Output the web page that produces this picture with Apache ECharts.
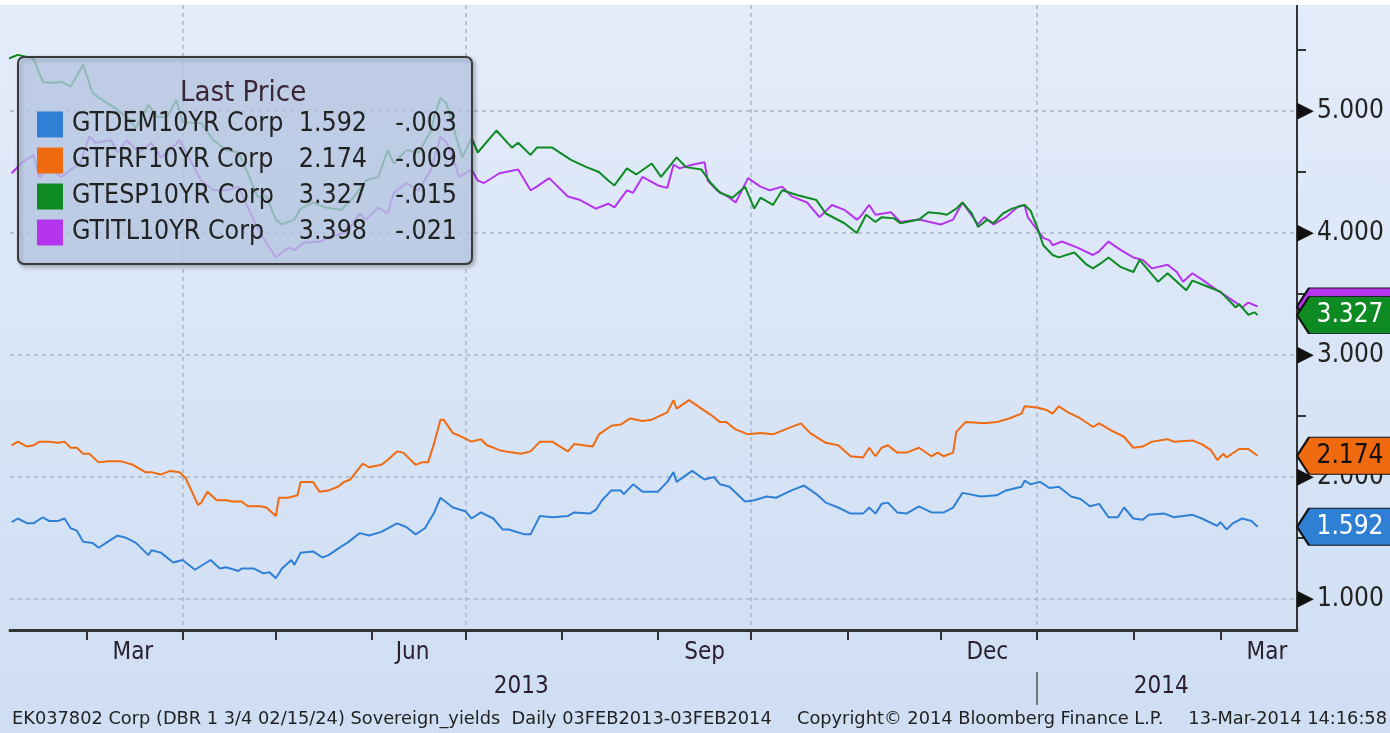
<!DOCTYPE html>
<html lang="en">
<head>
<meta charset="UTF-8">
<title>Sovereign yields</title>
<style>
  html, body { margin: 0; padding: 0; background: #fff; }
  #main { position: absolute; left: 0; top: 5px; width: 1390px; height: 728px; }
</style>
</head>
<body>
<div id="main"></div>
<script src="https://cdn.jsdelivr.net/npm/echarts@6/dist/echarts.min.js"></script>
<script>
// legend rows
var names = ['GTDEM10YR Corp', 'GTFRF10YR Corp', 'GTESP10YR Corp', 'GTITL10YR Corp'];
var lastPrice = ['1.592', '2.174', '3.327', '3.398'];
var change = ['-.003', '-.009', '-.015', '-.021'];
var colors = ['#2f80d5', '#f06a10', '#0d8a22', '#b534ee'];

// axis ticks / labels
var monthTicks = ['2013-03-01', '2013-04-01', '2013-05-01', '2013-06-01', '2013-07-01', '2013-08-01', '2013-09-01',
  '2013-10-01', '2013-11-01', '2013-12-01', '2014-01-01', '2014-02-01', '2014-03-01'];
var quarterLines = ['2013-04-01', '2013-07-01', '2013-10-01', '2014-01-01'];
var monthLabels = ['2013-03-16', '2013-06-14', '2013-09-16', '2013-12-16', '2014-03-16'];
var yearLabels = ['2013-07-19', '2014-02-10'];
var yearBreak = ['2014-01-01'];
var yTicks = [1, 2, 3, 4, 5];
var yMinor = [1.5, 2.5, 3.5, 4.5, 5.5];

// 10y yields
var dem = [['2013-02-05',1.63],['2013-02-07',1.66],['2013-02-10',1.62],['2013-02-12',1.62],['2013-02-15',1.67],['2013-02-17',1.64],
  ['2013-02-20',1.64],['2013-02-22',1.66],['2013-02-24',1.58],['2013-02-26',1.56],['2013-02-28',1.47],['2013-03-03',1.46],
  ['2013-03-05',1.42],['2013-03-08',1.47],['2013-03-11',1.52],['2013-03-14',1.50],['2013-03-17',1.46],['2013-03-21',1.36],
  ['2013-03-22',1.40],['2013-03-25',1.38],['2013-03-29',1.30],['2013-04-01',1.32],['2013-04-05',1.24],['2013-04-10',1.32],
  ['2013-04-13',1.25],['2013-04-15',1.26],['2013-04-19',1.23],['2013-04-20',1.25],['2013-04-24',1.25],['2013-04-27',1.21],
  ['2013-04-29',1.22],['2013-05-01',1.17],['2013-05-03',1.25],['2013-05-06',1.32],['2013-05-07',1.28],['2013-05-09',1.38],
  ['2013-05-13',1.39],['2013-05-16',1.34],['2013-05-18',1.36],['2013-05-22',1.43],['2013-05-24',1.46],['2013-05-28',1.54],
  ['2013-05-31',1.52],['2013-06-04',1.55],['2013-06-09',1.62],['2013-06-12',1.59],['2013-06-15',1.53],['2013-06-18',1.58],
  ['2013-06-21',1.71],['2013-06-23',1.83],['2013-06-27',1.75],['2013-07-01',1.72],['2013-07-03',1.66],['2013-07-06',1.71],
  ['2013-07-10',1.66],['2013-07-13',1.57],['2013-07-15',1.57],['2013-07-20',1.53],['2013-07-22',1.53],['2013-07-25',1.68],
  ['2013-07-29',1.67],['2013-08-03',1.68],['2013-08-05',1.71],['2013-08-10',1.70],['2013-08-12',1.73],['2013-08-14',1.81],
  ['2013-08-17',1.89],['2013-08-20',1.89],['2013-08-21',1.86],['2013-08-24',1.94],['2013-08-27',1.88],['2013-09-01',1.88],
  ['2013-09-04',1.96],['2013-09-06',2.04],['2013-09-07',1.96],['2013-09-12',2.05],['2013-09-16',1.98],['2013-09-19',2.00],
  ['2013-09-21',1.94],['2013-09-24',1.92],['2013-09-29',1.80],['2013-10-02',1.81],['2013-10-06',1.84],['2013-10-09',1.83],
  ['2013-10-14',1.89],['2013-10-18',1.93],['2013-10-22',1.86],['2013-10-25',1.79],['2013-10-29',1.75],['2013-11-02',1.70],
  ['2013-11-06',1.70],['2013-11-08',1.75],['2013-11-10',1.70],['2013-11-12',1.78],['2013-11-14',1.79],['2013-11-17',1.71],
  ['2013-11-20',1.70],['2013-11-24',1.76],['2013-11-28',1.71],['2013-12-02',1.71],['2013-12-05',1.75],['2013-12-08',1.87],
  ['2013-12-14',1.84],['2013-12-19',1.85],['2013-12-22',1.89],['2013-12-27',1.92],['2013-12-28',1.97],['2013-12-30',1.94],
  ['2014-01-02',1.96],['2014-01-05',1.91],['2014-01-08',1.92],['2014-01-12',1.84],['2014-01-15',1.82],['2014-01-18',1.76],
  ['2014-01-21',1.78],['2014-01-24',1.67],['2014-01-27',1.67],['2014-01-29',1.75],['2014-02-01',1.66],['2014-02-04',1.65],
  ['2014-02-06',1.69],['2014-02-11',1.70],['2014-02-14',1.67],['2014-02-20',1.69],['2014-02-23',1.66],['2014-02-28',1.60],
  ['2014-03-01',1.63],['2014-03-03',1.57],['2014-03-05',1.62],['2014-03-08',1.66],['2014-03-11',1.64],['2014-03-13',1.592]];

var frf = [['2013-02-05',2.26],['2013-02-07',2.29],['2013-02-10',2.25],['2013-02-12',2.26],['2013-02-14',2.29],['2013-02-17',2.29],
  ['2013-02-20',2.28],['2013-02-22',2.29],['2013-02-24',2.24],['2013-02-26',2.24],['2013-02-28',2.19],['2013-03-02',2.19],
  ['2013-03-05',2.12],['2013-03-08',2.13],['2013-03-12',2.13],['2013-03-16',2.10],['2013-03-20',2.04],['2013-03-22',2.04],
  ['2013-03-25',2.02],['2013-03-28',2.05],['2013-03-31',2.04],['2013-04-02',1.99],['2013-04-06',1.77],['2013-04-07',1.79],
  ['2013-04-09',1.88],['2013-04-12',1.81],['2013-04-15',1.81],['2013-04-17',1.80],['2013-04-20',1.80],['2013-04-22',1.76],
  ['2013-04-26',1.76],['2013-04-28',1.75],['2013-05-01',1.68],['2013-05-02',1.83],['2013-05-05',1.83],['2013-05-08',1.85],
  ['2013-05-09',1.96],['2013-05-13',1.96],['2013-05-15',1.88],['2013-05-18',1.89],['2013-05-21',1.92],['2013-05-23',1.96],
  ['2013-05-25',1.98],['2013-05-29',2.11],['2013-05-31',2.08],['2013-06-04',2.10],['2013-06-06',2.14],['2013-06-09',2.21],
  ['2013-06-11',2.20],['2013-06-15',2.10],['2013-06-17',2.12],['2013-06-19',2.12],['2013-06-21',2.28],['2013-06-23',2.47],
  ['2013-06-24',2.47],['2013-06-27',2.36],['2013-06-29',2.34],['2013-07-03',2.29],['2013-07-06',2.31],['2013-07-08',2.26],
  ['2013-07-12',2.22],['2013-07-14',2.21],['2013-07-19',2.19],['2013-07-22',2.21],['2013-07-25',2.29],['2013-07-29',2.29],
  ['2013-08-03',2.21],['2013-08-05',2.27],['2013-08-11',2.25],['2013-08-13',2.35],['2013-08-17',2.42],['2013-08-20',2.43],
  ['2013-08-23',2.48],['2013-08-27',2.46],['2013-08-30',2.47],['2013-09-04',2.53],['2013-09-06',2.63],['2013-09-07',2.56],
  ['2013-09-11',2.63],['2013-09-15',2.56],['2013-09-18',2.51],['2013-09-21',2.45],['2013-09-23',2.45],['2013-09-26',2.39],
  ['2013-09-30',2.35],['2013-10-04',2.36],['2013-10-08',2.35],['2013-10-12',2.39],['2013-10-17',2.44],['2013-10-20',2.36],
  ['2013-10-25',2.28],['2013-10-29',2.26],['2013-11-02',2.17],['2013-11-06',2.16],['2013-11-08',2.24],['2013-11-10',2.17],
  ['2013-11-12',2.24],['2013-11-14',2.26],['2013-11-17',2.20],['2013-11-20',2.20],['2013-11-24',2.24],['2013-11-28',2.17],
  ['2013-11-30',2.20],['2013-12-02',2.17],['2013-12-05',2.20],['2013-12-06',2.37],['2013-12-09',2.45],['2013-12-15',2.44],
  ['2013-12-19',2.45],['2013-12-23',2.48],['2013-12-27',2.52],['2013-12-28',2.58],['2014-01-01',2.57],['2014-01-04',2.55],
  ['2014-01-06',2.52],['2014-01-08',2.58],['2014-01-11',2.53],['2014-01-15',2.48],['2014-01-19',2.41],['2014-01-21',2.44],
  ['2014-01-25',2.38],['2014-01-29',2.33],['2014-02-01',2.24],['2014-02-04',2.25],['2014-02-07',2.29],['2014-02-12',2.31],
  ['2014-02-14',2.29],['2014-02-20',2.30],['2014-02-23',2.27],['2014-02-26',2.22],['2014-02-28',2.14],['2014-03-02',2.19],
  ['2014-03-03',2.16],['2014-03-07',2.23],['2014-03-10',2.23],['2014-03-13',2.174]];

var esp = [['2013-02-04',5.43],['2013-02-07',5.46],['2013-02-12',5.43],['2013-02-15',5.24],['2013-02-18',5.23],['2013-02-21',5.24],
  ['2013-02-24',5.20],['2013-02-28',5.38],['2013-03-03',5.15],['2013-03-05',5.11],['2013-03-10',5.03],['2013-03-14',4.95],
  ['2013-03-17',4.86],['2013-03-21',5.05],['2013-03-24',4.95],['2013-03-27',4.95],['2013-03-30',5.09],['2013-04-01',4.91],
  ['2013-04-07',4.90],['2013-04-11',4.76],['2013-04-15',4.68],['2013-04-19',4.66],['2013-04-22',4.49],['2013-04-25',4.30],
  ['2013-04-28',4.30],['2013-05-01',4.11],['2013-05-03',4.07],['2013-05-07',4.11],['2013-05-09',4.20],['2013-05-13',4.25],
  ['2013-05-17',4.21],['2013-05-22',4.19],['2013-05-26',4.29],['2013-05-30',4.43],['2013-06-03',4.46],['2013-06-06',4.68],
  ['2013-06-08',4.57],['2013-06-12',4.68],['2013-06-16',4.66],['2013-06-20',4.84],['2013-06-21',4.95],['2013-06-23',5.11],
  ['2013-06-25',5.06],['2013-06-28',4.79],['2013-06-30',4.62],['2013-07-03',4.78],['2013-07-05',4.66],['2013-07-11',4.84],
  ['2013-07-16',4.70],['2013-07-18',4.74],['2013-07-22',4.64],['2013-07-24',4.70],['2013-07-29',4.70],['2013-08-04',4.60],
  ['2013-08-09',4.54],['2013-08-13',4.50],['2013-08-16',4.43],['2013-08-18',4.39],['2013-08-22',4.53],['2013-08-25',4.48],
  ['2013-08-30',4.57],['2013-09-02',4.46],['2013-09-07',4.62],['2013-09-10',4.54],['2013-09-15',4.52],['2013-09-18',4.41],
  ['2013-09-21',4.33],['2013-09-25',4.29],['2013-09-29',4.38],['2013-10-02',4.20],['2013-10-04',4.29],['2013-10-08',4.23],
  ['2013-10-11',4.35],['2013-10-16',4.31],['2013-10-22',4.27],['2013-10-25',4.16],['2013-10-31',4.08],['2013-11-04',4.00],
  ['2013-11-07',4.15],['2013-11-10',4.09],['2013-11-12',4.13],['2013-11-16',4.12],['2013-11-18',4.08],['2013-11-24',4.11],
  ['2013-11-27',4.17],['2013-12-01',4.16],['2013-12-03',4.15],['2013-12-06',4.20],['2013-12-08',4.25],['2013-12-11',4.16],
  ['2013-12-13',4.05],['2013-12-16',4.11],['2013-12-18',4.08],['2013-12-21',4.16],['2013-12-24',4.20],['2013-12-28',4.23],
  ['2013-12-30',4.18],['2014-01-01',4.05],['2014-01-03',3.90],['2014-01-06',3.82],['2014-01-08',3.80],['2014-01-13',3.84],
  ['2014-01-17',3.74],['2014-01-19',3.71],['2014-01-22',3.76],['2014-01-24',3.80],['2014-01-28',3.72],['2014-02-01',3.68],
  ['2014-02-03',3.78],['2014-02-09',3.60],['2014-02-12',3.67],['2014-02-18',3.53],['2014-02-20',3.61],['2014-02-25',3.56],
  ['2014-03-01',3.52],['2014-03-06',3.39],['2014-03-07',3.42],['2014-03-10',3.33],['2014-03-12',3.35],['2014-03-13',3.327]];

var itl = [['2013-02-05',4.49],['2013-02-08',4.57],['2013-02-12',4.64],['2013-02-14',4.46],['2013-02-17',4.52],['2013-02-21',4.46],
  ['2013-02-24',4.52],['2013-02-27',4.57],['2013-03-02',4.79],['2013-03-04',4.74],['2013-03-09',4.76],['2013-03-11',4.66],
  ['2013-03-14',4.76],['2013-03-18',4.66],['2013-03-22',4.74],['2013-03-25',4.62],['2013-03-28',4.68],['2013-03-31',4.76],
  ['2013-04-03',4.62],['2013-04-07',4.43],['2013-04-11',4.35],['2013-04-15',4.35],['2013-04-19',4.38],['2013-04-22',4.21],
  ['2013-04-25',4.05],['2013-04-28',3.92],['2013-05-01',3.80],['2013-05-05',3.88],['2013-05-07',3.86],['2013-05-10',3.92],
  ['2013-05-15',3.93],['2013-05-19',3.97],['2013-05-24',4.01],['2013-05-28',4.16],['2013-05-30',4.11],['2013-06-03',4.21],
  ['2013-06-06',4.16],['2013-06-08',4.33],['2013-06-12',4.41],['2013-06-16',4.35],['2013-06-20',4.52],['2013-06-23',4.79],
  ['2013-06-25',4.74],['2013-06-28',4.54],['2013-06-29',4.46],['2013-07-03',4.52],['2013-07-05',4.43],['2013-07-07',4.41],
  ['2013-07-12',4.49],['2013-07-18',4.52],['2013-07-22',4.35],['2013-07-24',4.38],['2013-07-28',4.45],['2013-08-03',4.30],
  ['2013-08-07',4.27],['2013-08-12',4.20],['2013-08-16',4.24],['2013-08-18',4.21],['2013-08-22',4.35],['2013-08-24',4.33],
  ['2013-08-27',4.46],['2013-09-01',4.39],['2013-09-04',4.37],['2013-09-06',4.56],['2013-09-08',4.53],['2013-09-12',4.56],
  ['2013-09-16',4.58],['2013-09-17',4.43],['2013-09-20',4.35],['2013-09-24',4.29],['2013-09-26',4.25],['2013-09-30',4.45],
  ['2013-10-04',4.38],['2013-10-07',4.35],['2013-10-11',4.38],['2013-10-14',4.30],['2013-10-19',4.25],['2013-10-23',4.13],
  ['2013-10-27',4.23],['2013-10-31',4.19],['2013-11-04',4.11],['2013-11-05',4.13],['2013-11-08',4.23],['2013-11-10',4.15],
  ['2013-11-15',4.17],['2013-11-18',4.09],['2013-11-24',4.11],['2013-12-01',4.07],['2013-12-05',4.11],['2013-12-08',4.25],
  ['2013-12-13',4.07],['2013-12-15',4.13],['2013-12-18',4.07],['2013-12-22',4.13],['2013-12-26',4.22],['2013-12-28',4.23],
  ['2013-12-29',4.13],['2014-01-03',3.96],['2014-01-05',3.94],['2014-01-06',3.90],['2014-01-09',3.93],['2014-01-14',3.88],
  ['2014-01-19',3.82],['2014-01-21',3.85],['2014-01-24',3.93],['2014-01-28',3.86],['2014-02-01',3.80],['2014-02-04',3.78],
  ['2014-02-07',3.71],['2014-02-12',3.74],['2014-02-15',3.68],['2014-02-17',3.60],['2014-02-20',3.67],['2014-02-23',3.62],
  ['2014-02-28',3.53],['2014-03-03',3.48],['2014-03-06',3.43],['2014-03-08',3.39],['2014-03-10',3.43],['2014-03-13',3.398]];

var seriesData = [dem, frf, esp, itl];

function ts(s) {
  var p = s.split('-');
  return new Date(+p[0], +p[1] - 1, +p[2]).getTime();
}
var xMin = new Date(2013, 1, 4, 11).getTime();
var xMax = new Date(2014, 2, 25, 16).getTime();
var yMin = 0.746, yMax = 5.869;

var FONT = "'DejaVu Sans Condensed', 'DejaVu Sans', sans-serif";
var SMALL = "'DejaVu Sans', sans-serif";
var MONTHS = ['Jan','Feb','Mar','Apr','May','Jun','Jul','Aug','Sep','Oct','Nov','Dec'];
var flagPath = 'path://M0,15 L12,0 L100,0 L100,30 L12,30 Z';
var flagText = ['#fff', '#111', '#fff', '#fff'];

var myChart = echarts.init(document.getElementById('main'));

var series = names.map(function (n, i) {
  var d = seriesData[i].map(function (p) { return [ts(p[0]), p[1]]; });
  return {
    name: n,
    type: 'line',
    data: d,
    showSymbol: false,
    z: i === 2 ? 3 : 2,
    lineStyle: { width: 2, color: colors[i] },
    itemStyle: { color: colors[i] },
    markPoint: {
      silent: true,
      z: i === 2 ? 7 : 5,
      symbol: flagPath,
      symbolSize: [100, 37],
      symbolOffset: [50, 0],
      itemStyle: { color: colors[i], borderColor: '#111', borderWidth: 1.5 },
      label: {
        show: i !== 3, formatter: lastPrice[i], color: flagText[i],
        fontSize: 26, fontFamily: FONT, offset: [3, 0]
      },
      data: [{ coord: [xMax, d[d.length - 1][1]] }]
    }
  };
});

var option = {
  animation: false,
  backgroundColor: new echarts.graphic.LinearGradient(0, 0, 0, 1, [
    { offset: 0, color: '#e3ecfa' }, { offset: 1, color: '#cfdef3' }
  ]),
  color: colors,
  title: [
    { text: 'Last Price', left: 180, top: 74, padding: 0,
      textStyle: { fontSize: 29, fontWeight: 'normal', color: '#3b2536', fontFamily: FONT } },
    { text: 'EK037802 Corp (DBR 1 3/4 02/15/24) Sovereign_yields  Daily 03FEB2013-03FEB2014', left: 12, top: 705, padding: 0,
      textStyle: { fontSize: 17.8, fontWeight: 'normal', color: '#222', fontFamily: SMALL } },
    { text: 'Copyright\u00a9 2014 Bloomberg Finance L.P.', left: 797, top: 705, padding: 0,
      textStyle: { fontSize: 17.8, fontWeight: 'normal', color: '#222', fontFamily: SMALL } },
    { text: '13-Mar-2014 14:16:58', right: 3, top: 705, padding: 0,
      textStyle: { fontSize: 17.8, fontWeight: 'normal', color: '#222', fontFamily: SMALL } }
  ],
  legend: {
    orient: 'vertical',
    left: 18, top: 52,
    padding: [54, 15, 18, 19],
    itemWidth: 26, itemHeight: 26, itemGap: 9,
    icon: 'rect',
    data: names,
    backgroundColor: 'rgba(196, 213, 242, 0.72)',
    borderColor: '#3a3a3a', borderWidth: 2, borderRadius: 6,
    shadowColor: 'rgba(0,0,0,0.3)', shadowBlur: 4, shadowOffsetX: 2, shadowOffsetY: 2,
    formatter: function (n) {
      var i = names.indexOf(n);
      return '{n|' + n + '}{p|' + lastPrice[i] + '}{c|' + change[i] + '}';
    },
    textStyle: {
      color: '#222', fontFamily: FONT, fontSize: 26.5,
      rich: {
        n: { width: 221, padding: [0, 0, 0, 4], fontSize: 26.5, fontFamily: FONT, color: '#222' },
        p: { width: 74, align: 'right', fontSize: 26.5, fontFamily: FONT, color: '#222' },
        c: { width: 90, align: 'right', fontSize: 26.5, fontFamily: FONT, color: '#222' }
      }
    }
  },
  grid: { left: 10, right: 93, top: 0, bottom: 103 },
  xAxis: [
    {
      type: 'value', min: xMin, max: xMax, position: 'bottom',
      axisLine: { show: true, lineStyle: { color: '#333', width: 3 } },
      axisTick: { show: true, customValues: monthTicks.map(ts), length: 10, lineStyle: { color: '#333', width: 2 } },
      axisLabel: {
        show: true, customValues: monthLabels.map(ts), margin: 11,
        fontSize: 24, color: '#2a2030', fontFamily: FONT,
        formatter: function (v) { return MONTHS[new Date(v).getMonth()]; }
      },
      splitLine: { show: false }
    },
    {
      type: 'value', min: xMin, max: xMax, position: 'bottom',
      axisLine: { show: false },
      axisTick: { show: false, customValues: quarterLines.map(ts) },
      axisLabel: { show: false },
      splitLine: { show: true, lineStyle: { color: '#a9b5c8', type: [4, 4], width: 1.5 } }
    },
    {
      type: 'value', min: xMin, max: xMax, position: 'bottom', offset: 42,
      axisLine: { show: false },
      axisTick: { show: true, customValues: yearBreak.map(ts), length: 33, lineStyle: { color: '#555', width: 1.5 } },
      axisLabel: {
        show: true, customValues: yearLabels.map(ts), margin: 3,
        fontSize: 24, color: '#2a2030', fontFamily: FONT,
        formatter: function (v) { return String(new Date(v).getFullYear()); }
      },
      splitLine: { show: false }
    }
  ],
  yAxis: [
    {
      type: 'value', position: 'right', min: yMin, max: yMax,
      axisLine: { show: true, lineStyle: { color: '#333', width: 2 } },
      axisTick: { show: false, customValues: yTicks },
      axisLabel: {
        show: true, customValues: yTicks, margin: 0,
        formatter: function (v) { return '{t|\u25B6}{v|' + v.toFixed(3) + '}'; },
        rich: {
          t: { fontSize: 22, color: '#111', fontFamily: 'DejaVu Sans', padding: [0, 3, 0, 0] },
          v: { fontSize: 26, color: '#222', fontFamily: FONT }
        }
      },
      splitLine: { show: true, lineStyle: { color: '#a9b5c8', type: [4, 4], width: 1.5 } }
    },
    {
      type: 'value', position: 'right', min: yMin, max: yMax,
      axisLine: { show: false },
      axisTick: { show: true, customValues: yMinor, length: 9, lineStyle: { color: '#333', width: 2 } },
      axisLabel: { show: false },
      splitLine: { show: false }
    }
  ],
  series: series
};

myChart.setOption(option);
</script>
</body>
</html>
